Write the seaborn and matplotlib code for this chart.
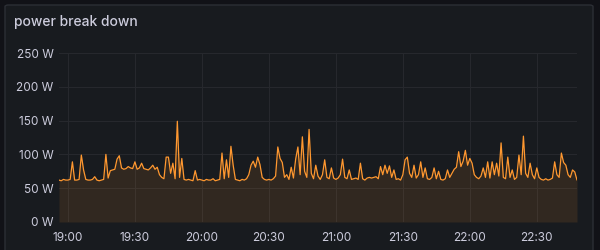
import matplotlib
matplotlib.use("Agg")
import matplotlib.pyplot as plt
import seaborn as sns
import pandas as pd
import numpy as np
from matplotlib.patches import FancyBboxPatch

title = "power break down"
minutes_start = -4  # minutes relative to 19:00, one sample per minute
power_w = [
    62, 61, 63, 62, 62, 63, 89, 62, 62, 63, 99, 77, 63, 62,
    62, 63, 67, 62, 61, 62, 63, 100, 65, 76,
    77, 78, 93, 98, 80, 78, 79, 82, 80, 79,
    89, 78, 80, 87, 79, 78, 77, 80, 84, 78,
    81, 70, 66, 64, 96, 96, 72, 87, 64, 149,
    66, 94, 63, 62, 63, 62, 61, 76, 62, 63,
    62, 61, 63, 62, 62, 64, 61, 62, 63, 102,
    64, 92, 66, 112, 84, 63, 62, 61, 63, 62,
    64, 70, 84, 90, 81, 96, 85, 66, 63, 62,
    63, 62, 64, 68, 111, 94, 88, 66, 70, 63,
    81, 65, 93, 111, 70, 126, 75, 66, 137, 72,
    64, 84, 68, 63, 70, 92, 66, 64, 80, 65,
    63, 65, 70, 93, 66, 64, 77, 63, 64, 65,
    63, 87, 64, 62, 65, 66, 65, 66, 67, 64,
    82, 70, 84, 72, 83, 66, 77, 63, 64, 62,
    70, 92, 96, 72, 66, 84, 65, 70, 89, 66,
    80, 64, 63, 66, 80, 64, 75, 63, 62, 64,
    77, 66, 72, 78, 81, 104, 82, 90, 106, 84,
    94, 87, 70, 66, 64, 68, 80, 66, 89, 65,
    89, 70, 87, 68, 117, 66, 64, 96, 66, 77,
    63, 66, 99, 70, 127, 72, 66, 87, 70, 64,
    80, 66, 63, 62, 64, 62, 63, 65, 89, 70,
    66, 102, 88, 84, 70, 66, 77, 74, 62,
]
x_tick_minutes = [0, 30, 60, 90, 120, 150, 180, 210]
x_tick_labels = ["19:00", "19:30", "20:00", "20:30", "21:00", "21:30", "22:00", "22:30"]
y_ticks = [0, 50, 100, 150, 200, 250]
y_tick_labels = ["0 W", "50 W", "100 W", "150 W", "200 W", "250 W"]

minutes = list(range(minutes_start, minutes_start + len(power_w)))
df = pd.DataFrame({"minute": minutes, "power": power_w})

sns.set_theme(style="dark")
plt.rcParams["font.family"] = ["Inter", "DejaVu Sans"]

BG = "#111217"
PANEL = "#181b1f"
TEXT = "#ccccdc"
ORANGE = "#ff9830"

fig = plt.figure(figsize=(6, 2.5), dpi=100, facecolor=BG)
panel = FancyBboxPatch((5 / 600, -0.05), 588 / 600, 1 - 5 / 250 + 0.05,
                       boxstyle="round,pad=0,rounding_size=0.006",
                       transform=fig.transFigure, facecolor=PANEL,
                       edgecolor="#2c2f35", linewidth=1.0, zorder=-5)
fig.patches.append(panel)

ax = fig.add_axes([59 / 600, 1 - 222 / 250, (577 - 59) / 600, (222 - 53) / 250])
ax.set_zorder(2)
ax.set_facecolor(PANEL)
sns.lineplot(data=df, x="minute", y="power", ax=ax, color=ORANGE, linewidth=0.9)
ax.fill_between(df["minute"], df["power"], 0, color=ORANGE, alpha=0.11, linewidth=0)

ax.set_xlim(df["minute"].min(), df["minute"].max())
ax.set_ylim(0, 250)
ax.set_xticks(x_tick_minutes)
ax.set_xticklabels(x_tick_labels)
ax.set_yticks(y_ticks)
ax.set_yticklabels(y_tick_labels)
ax.set_xlabel("")
ax.set_ylabel("")
ax.tick_params(axis="y", colors=TEXT, labelsize=8.5, length=0, pad=4)
ax.tick_params(axis="x", colors=TEXT, labelsize=8.5, length=0, pad=7)
for lab in ax.get_xticklabels() + ax.get_yticklabels():
    lab.set_color(TEXT)
ax.grid(True, color="#26282d", linewidth=0.8)
for s in ax.spines.values():
    s.set_visible(False)

fig.text(14 / 600, 1 - 22 / 250, title, color=TEXT, fontsize=10,
         ha="left", va="center", fontweight="medium")

fig.savefig("out.png", dpi=100, facecolor=BG)
